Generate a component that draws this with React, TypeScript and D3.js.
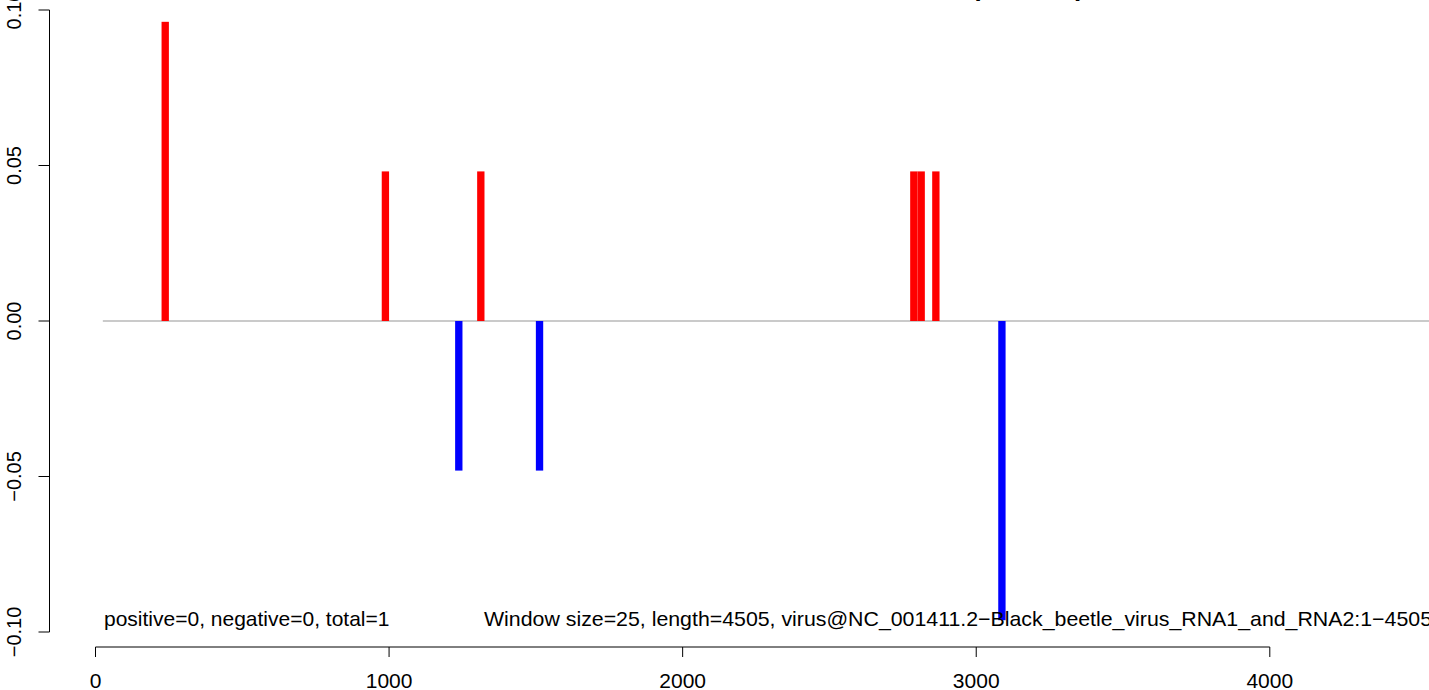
import React from "react";
import * as d3 from "d3";

const binStarts = [225, 975, 1225, 1300, 1500, 2775, 2800, 2850, 3075];
const binValues = [0.0962, 0.0481, -0.0481, 0.0481, -0.0481, 0.0481, 0.0481, 0.0481, -0.0962];
const windowSize = 25;
const seqLength = 4505;
const xTicks = [0, 1000, 2000, 3000, 4000];
const yTicks = [-0.1, -0.05, 0, 0.05, 0.1];
const yTickLabels = ["\u22120.10", "\u22120.05", "0.00", "0.05", "0.10"];
const titleText = "DrosoS2_smallRNA_virus_reads_total_5dpi_Group1";
const countsText = "positive=0, negative=0, total=1";
const infoText = "Window size=25, length=4505, virus@NC_001411.2\u2212Black_beetle_virus_RNA1_and_RNA2:1\u22124505";

export default function App() {
  const W = 1429, H = 690;
  const x = d3.scaleLinear().domain([0, 4000]).range([95.5, 1269.8]);
  const y = d3.scaleLinear().domain([-0.1, 0.1]).range([632, 10]);
  const font = "'Liberation Sans', Arial, Helvetica, sans-serif";
  const axisY = 647;
  const axisX = 49.5;
  return (
    <svg width={W} height={H} style={{ position: "absolute", left: 0, top: 0, background: "#fff" }} fontFamily={font}>
      <rect x={0} y={0} width={W} height={H} fill="#fff" />
      <text x={780} y={-4} textAnchor="middle" fontWeight="bold" fontSize={26}>{titleText}</text>
      {/* zero line */}
      <line x1={x(windowSize)} x2={x(seqLength + 200)} y1={y(0)} y2={y(0)} stroke="#959595" strokeWidth={1} />
      {/* bars */}
      {binStarts.map((s, i) => {
        const v = binValues[i];
        const y0 = y(0), y1 = y(v);
        return (
          <rect key={i} x={x(s)} width={x(s + windowSize) - x(s)} y={Math.min(y0, y1)} height={Math.abs(y1 - y0)}
            fill={v >= 0 ? "#ff0000" : "#0000ff"} />
        );
      })}
      {/* y axis */}
      <line x1={axisX} x2={axisX} y1={y(-0.1)} y2={y(0.1)} stroke="#000" strokeWidth={1} />
      {yTicks.map((t, i) => (
        <g key={i}>
          <line x1={axisX - 11} x2={axisX} y1={y(t)} y2={y(t)} stroke="#000" strokeWidth={1} />
          <text transform={`translate(21,${y(t)}) rotate(-90)`} textAnchor="middle" fontSize={20}>{yTickLabels[i]}</text>
        </g>
      ))}
      {/* x axis */}
      <line x1={x(0)} x2={x(4000)} y1={axisY} y2={axisY} stroke="#000" strokeWidth={1} />
      {xTicks.map((t, i) => (
        <g key={i}>
          <line x1={x(t)} x2={x(t)} y1={axisY} y2={axisY + 10} stroke="#000" strokeWidth={1} />
          <text x={x(t)} y={688} textAnchor="middle" fontSize={21}>{String(t)}</text>
        </g>
      ))}
      <text x={104} y={626} fontSize={21}>{countsText}</text>
      <text x={484} y={626} fontSize={21} textLength={948} lengthAdjust="spacingAndGlyphs">{infoText}</text>
    </svg>
  );
}
